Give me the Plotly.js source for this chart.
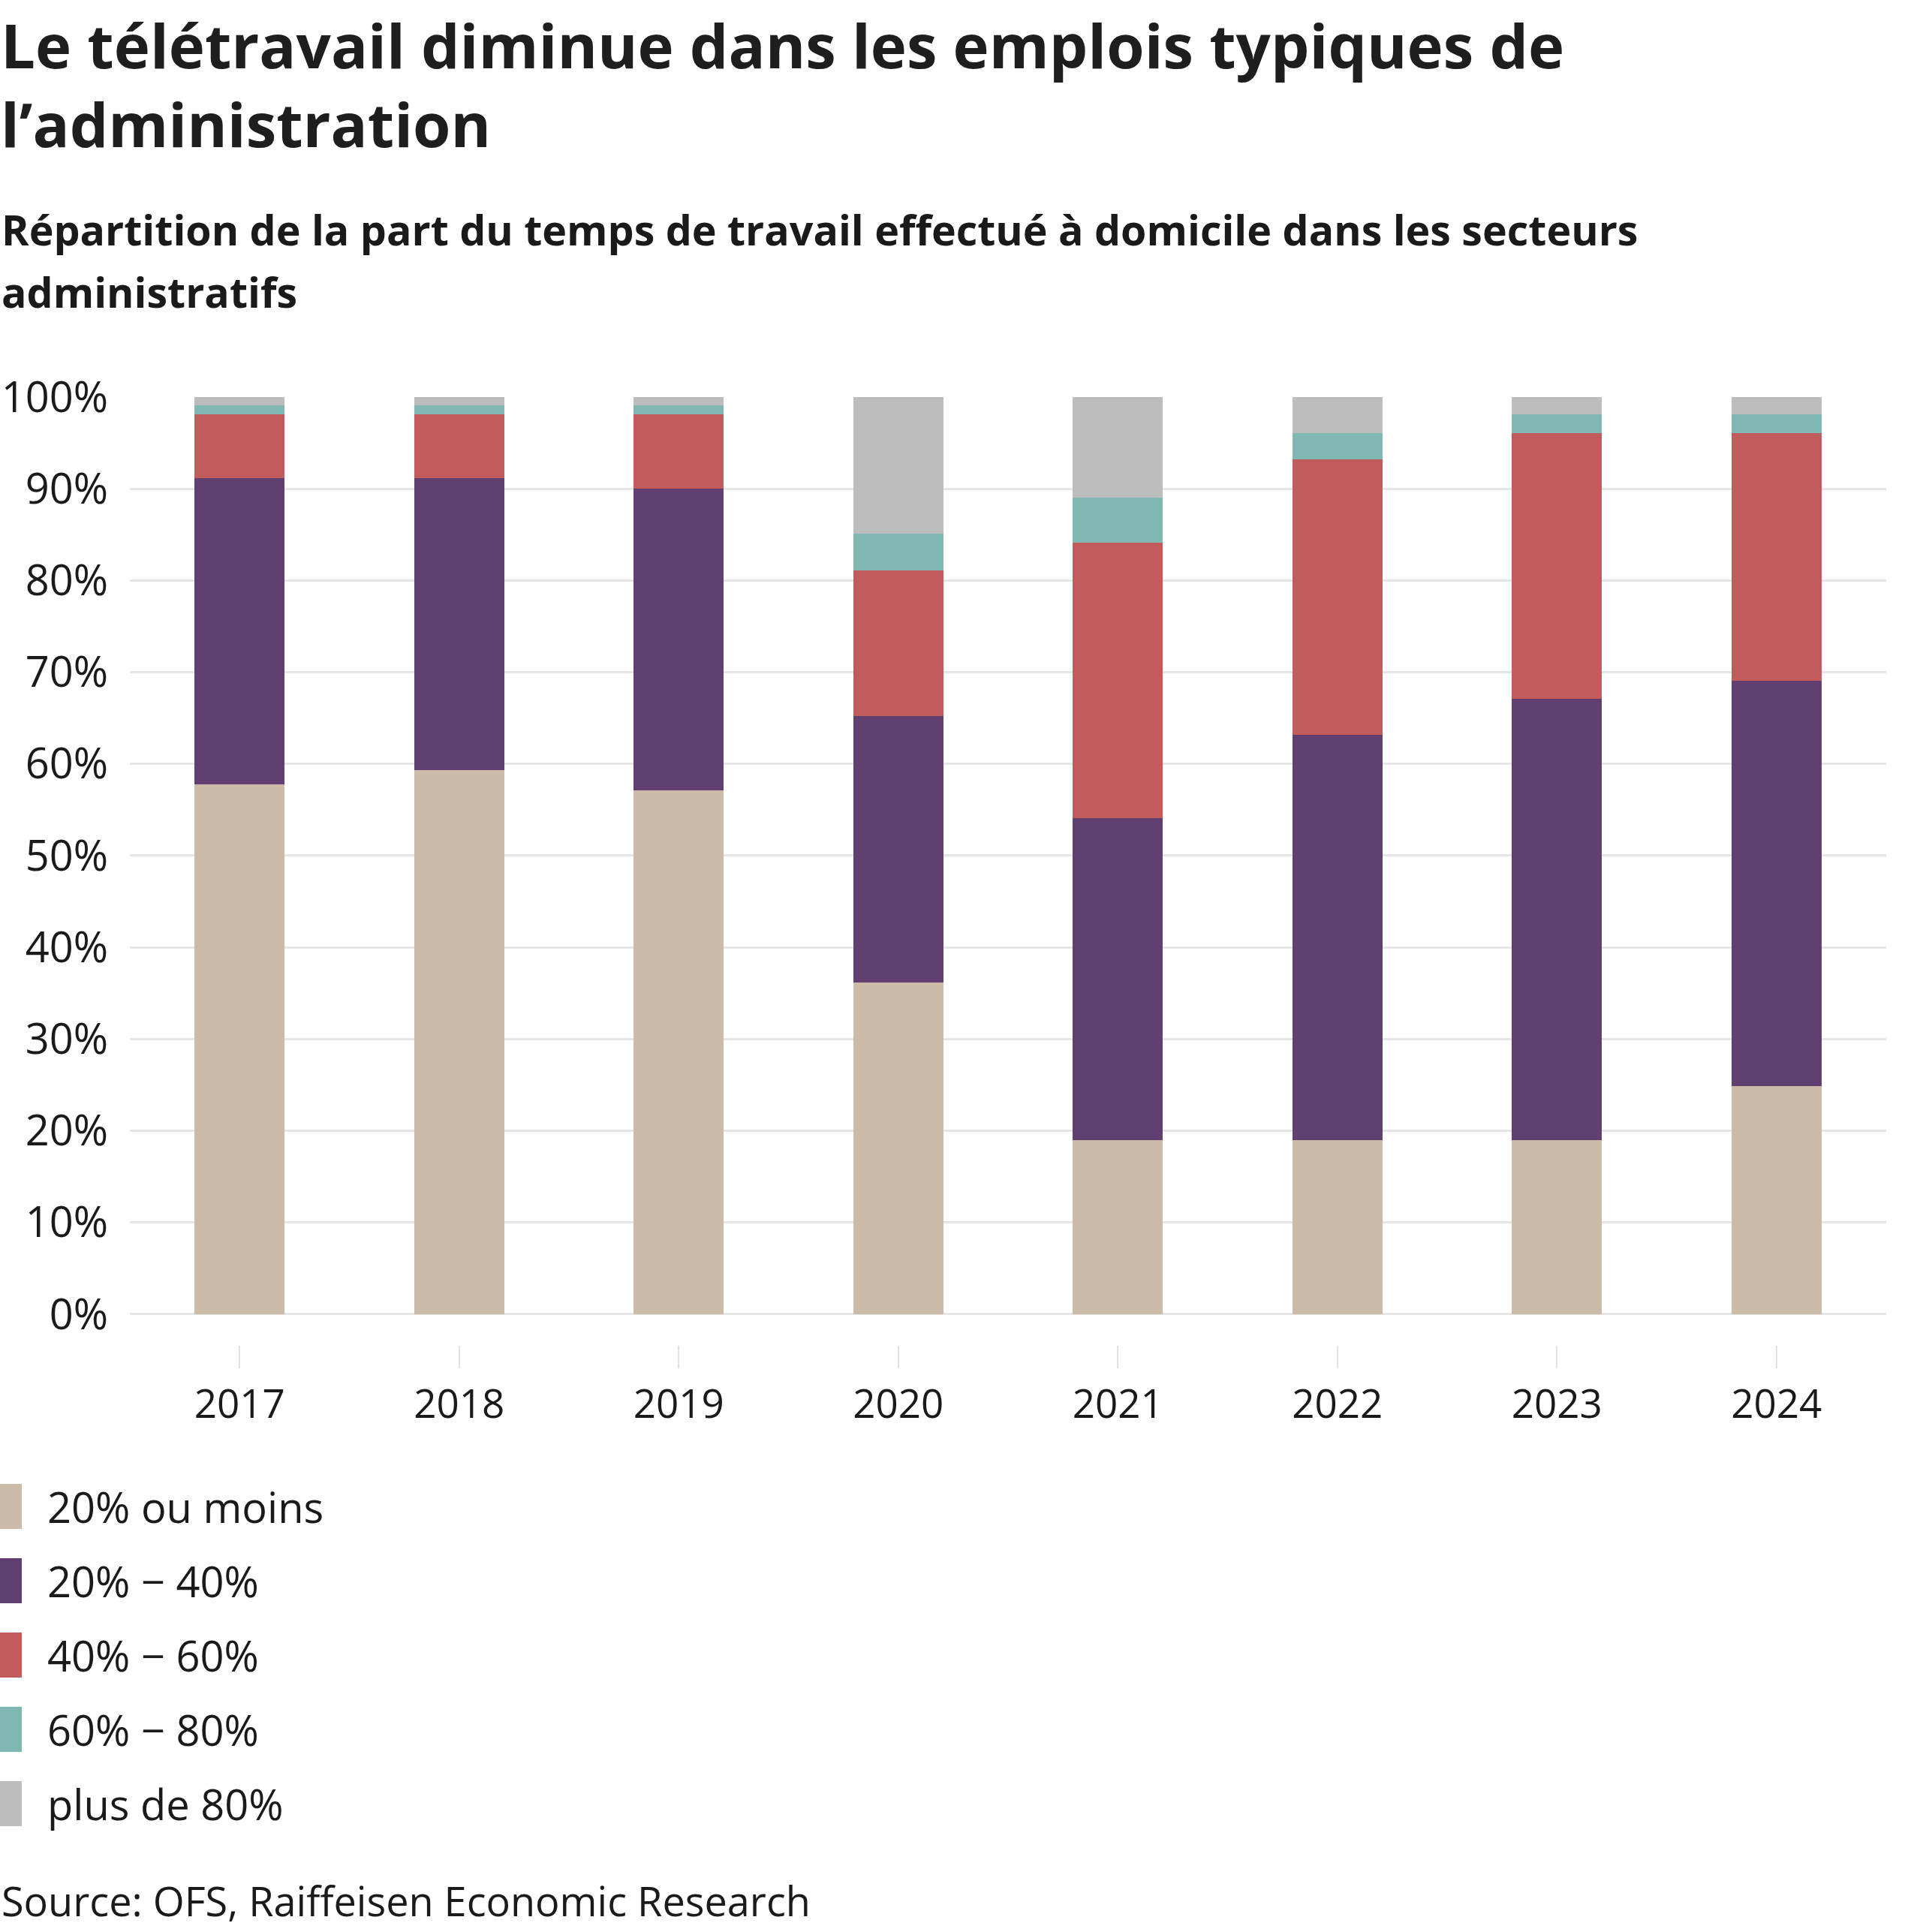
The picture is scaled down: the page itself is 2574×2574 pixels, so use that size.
<!DOCTYPE html>
<html>
<head>
<meta charset="utf-8">
<script src="https://cdn.plot.ly/plotly-3.0.1.min.js"></script>
<style>
  html, body { margin: 0; padding: 0; background: #ffffff; }
  #chart { width: 2574px; height: 2574px; }
</style>
</head>
<body>
<div id="chart"></div>
<script>
// ---- Data ----
const years = ["2017", "2018", "2019", "2020", "2021", "2022", "2023", "2024"];
const seriesNames = ["20% ou moins", "20% − 40%", "40% − 60%", "60% − 80%", "plus de 80%"];
const share20orLess = [57.8, 59.3, 57.1, 36.2, 19.0, 19.0, 19.0, 24.9];
const share20to40   = [33.4, 31.9, 32.9, 29.0, 35.1, 44.2, 48.1, 44.2];
const share40to60   = [6.9, 6.9, 8.1, 15.9, 30.0, 30.0, 29.0, 27.0];
const share60to80   = [1.0, 1.0, 1.0, 4.0, 4.9, 2.9, 2.0, 2.0];
const shareOver80   = [0.9, 0.9, 0.9, 14.9, 11.0, 3.9, 1.9, 1.9];
const seriesColors = ["#CDBBAA", "#614071", "#C25B5C", "#80B8B3", "#BDBDBD"];
const yTickValues = [0, 10, 20, 30, 40, 50, 60, 70, 80, 90, 100];

const titleLines = ["Le télétravail diminue dans les emplois typiques de", "l’administration"];
const subtitleLines = ["Répartition de la part du temps de travail effectué à domicile dans les secteurs", "administratifs"];
const sourceText = "Source: OFS, Raiffeisen Economic Research";

// ---- Layout geometry (pixels) ----
const W = 2574, H = 2574;
const plotLeft = 173, plotRight = 2513, plotTop = 529, plotBottom = 1792;
const plotW = plotRight - plotLeft, plotH = plotBottom - plotTop;
const px2x = (x) => (x - plotLeft) / plotW;
const px2y = (y) => (plotBottom - y) / plotH;

const FONT = "'Open Sans', 'Noto Sans', sans-serif";
const TEXT = "#1a1a1a";

const allSeries = [share20orLess, share20to40, share40to60, share60to80, shareOver80];
const traces = allSeries.map((vals, i) => ({
  type: "bar",
  name: seriesNames[i],
  x: years,
  y: vals,
  marker: { color: seriesColors[i], line: { width: 0 } },
  hoverinfo: "skip",
  showlegend: false
}));

const annotations = [];
const shapes = [];

// Title
const titleY = [59, 164];
titleLines.forEach((t, i) => annotations.push({
  text: t, xref: "paper", yref: "paper", x: px2x(0), y: px2y(titleY[i]),
  xanchor: "left", yanchor: "middle", showarrow: false, borderpad: 0,
  font: { family: FONT, size: 81.5, color: "#1e1e1e", weight: 700 }
}));
// Subtitle
const subY = [305, 388];
subtitleLines.forEach((t, i) => annotations.push({
  text: t, xref: "paper", yref: "paper", x: px2x(0), y: px2y(subY[i]),
  xanchor: "left", yanchor: "middle", showarrow: false,
  font: { family: FONT, size: 55.5, color: TEXT, weight: 700 }
}));
// Legend (custom, vertical)
const legendCenters = [2007, 2106, 2205, 2304, 2403];
seriesNames.forEach((n, i) => {
  shapes.push({
    type: "rect", xref: "paper", yref: "paper",
    x0: px2x(0), x1: px2x(29), y0: px2y(legendCenters[i] - 30), y1: px2y(legendCenters[i] + 30),
    fillcolor: seriesColors[i], line: { width: 0 }
  });
  annotations.push({
    text: n, xref: "paper", yref: "paper", x: px2x(61), y: px2y(legendCenters[i]),
    xanchor: "left", yanchor: "middle", showarrow: false,
    font: { family: FONT, size: 56, color: TEXT }
  });
});
// Source
annotations.push({
  text: sourceText, xref: "paper", yref: "paper", x: px2x(0), y: px2y(2532),
  xanchor: "left", yanchor: "middle", showarrow: false,
  font: { family: FONT, size: 54, color: TEXT }
});

const layout = {
  width: W, height: H,
  paper_bgcolor: "#ffffff", plot_bgcolor: "#ffffff",
  margin: { l: plotLeft, r: W - plotRight, t: plotTop, b: H - plotBottom, pad: 0 },
  barmode: "stack",
  bargap: 0.59,
  showlegend: false,
  font: { family: FONT, color: TEXT },
  xaxis: {
    type: "category",
    range: [-0.5, 7.5],
    showgrid: false, zeroline: false, showline: false,
    ticks: "outside", ticklen: 30, tickwidth: 2, tickcolor: "#e2e2e2",
    tickfont: { family: FONT, size: 53, color: TEXT },
    ticklabelstandoff: 2,
    fixedrange: true
  },
  yaxis: {
    range: [-3.36, 100],
    tickvals: yTickValues,
    ticktext: yTickValues.map(v => v + "%"),
    showgrid: true, gridcolor: "#e6e6e6", gridwidth: 3,
    zeroline: false, showline: false, ticks: "",
    tickfont: { family: FONT, size: 56, color: TEXT },
    ticklabelstandoff: 28,
    fixedrange: true
  },
  annotations: annotations,
  shapes: shapes
};

Plotly.newPlot("chart", traces, layout, { staticPlot: true, displayModeBar: false });
</script>
</body>
</html>
